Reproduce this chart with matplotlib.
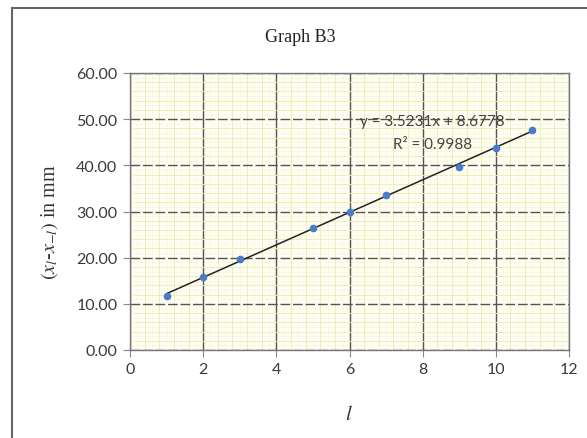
import matplotlib
matplotlib.use("Agg")
import matplotlib.pyplot as plt
import numpy as np
from matplotlib.lines import Line2D
from matplotlib.ticker import MultipleLocator, FormatStrFormatter

# Data
l_vals = [1, 2, 3, 5, 6, 7, 9, 10, 11]
dx_vals = [11.7, 15.9, 19.8, 26.4, 30.0, 33.6, 39.7, 43.7, 47.7]
slope = 3.5231
intercept = 8.6778
r2 = 0.9988
title = "Graph B3"
xlabel = "$l$"
ylabel = r"$(x_l$-$x_{-l})$ in mm"

plt.rcParams['mathtext.fontset'] = 'stix'

fig = plt.figure(figsize=(5.87, 4.39), dpi=100)
fig.patch.set_facecolor('white')
ax = fig.add_axes([130/587, 1-351/439, (569-130)/587, (351-74)/439])
ax.set_facecolor('#fefef4')

ax.set_xlim(0, 12)
ax.set_ylim(0, 60)

# graph-paper grid
ax.xaxis.set_major_locator(MultipleLocator(2))
ax.yaxis.set_major_locator(MultipleLocator(10))
ax.xaxis.set_minor_locator(MultipleLocator(0.4))
ax.yaxis.set_minor_locator(MultipleLocator(2))
for xv in np.arange(0.2, 12, 0.4):
    ax.axvline(xv, color='#f8f8dc', lw=0.5, zorder=0)
for yv in np.arange(1, 60, 2):
    ax.axhline(yv, color='#f8f8dc', lw=0.5, zorder=0)
ax.grid(which='minor', color='#eeeeb8', lw=0.7, zorder=0.5)
ax.grid(which='major', axis='x', color='#55554c', lw=1.0, zorder=1)
ax.grid(which='major', axis='y', color='#55554c', lw=1.0, ls=(0, (7, 2)), zorder=1)
ax.tick_params(which='minor', length=0)
ax.tick_params(which='major', direction='out', length=5, color='#888888',
               labelsize=11.5, labelcolor='#3a3a3a', pad=4)
ax.yaxis.set_major_formatter(FormatStrFormatter('%.2f'))
for lab in ax.get_xticklabels() + ax.get_yticklabels():
    lab.set_fontfamily('Lato')
for sp in ax.spines.values():
    sp.set_color('#777777')
    sp.set_linewidth(1.0)

# data and trendline
xs = np.array([min(l_vals), max(l_vals)])
ax.plot(xs, slope * xs + intercept, color='#222222', lw=1.1, zorder=3)
ax.plot(l_vals, dx_vals, 'o', color='#4a7cc7', ms=4.5, zorder=4)

ax.text(8.26, 49.6, f"y = {slope}x + {intercept}", ha='center', va='center',
        fontsize=11, color='#444444', family='Lato', zorder=5)
ax.text(8.26, 44.6, f"R² = {r2}", ha='center', va='center',
        fontsize=11, color='#444444', family='Lato', zorder=5)

fig.text(300/587, 1-38/439, title, ha='center', va='center', fontsize=13,
         family='Liberation Serif', color='#222222')
fig.text(349/587, 1-414/439, xlabel, ha='center', va='center', fontsize=15, color='#333333')
fig.text(50/587, 1-222/439, ylabel, ha='center', va='center', rotation=90,
         fontsize=14.5, color='#333333', family='Liberation Serif')

# outer frame
fig.add_artist(Line2D([12/587, 1.0], [1-9/439, 1-9/439], transform=fig.transFigure,
                      color='#666666', lw=1.5))
fig.add_artist(Line2D([12/587, 12/587], [0, 1-9/439], transform=fig.transFigure,
                      color='#666666', lw=1.5))

fig.savefig('out.png', dpi=100)
